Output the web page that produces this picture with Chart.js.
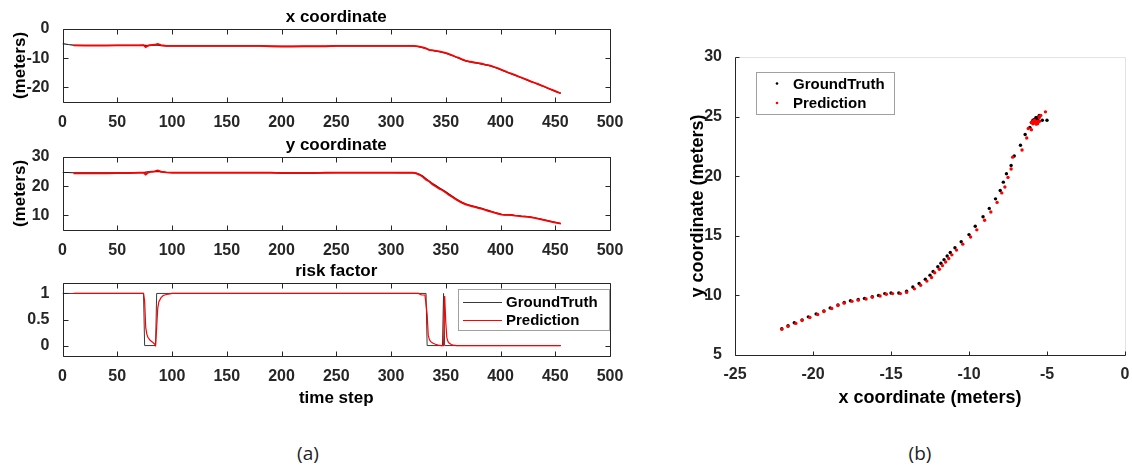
<!DOCTYPE html>
<html>
<head>
<meta charset="utf-8">
<script src="https://cdn.jsdelivr.net/npm/chart.js@4.4.1/dist/chart.umd.min.js"></script>
<style>
  body { margin: 0; background: #fff; width: 1132px; height: 467px; position: relative; overflow: hidden; }
  canvas { position: absolute; }
  .cap { position: absolute; font-family: "Open Sans", "Liberation Sans", sans-serif; font-size: 19px; color: #222; transform: translateX(-50%); }
</style>
</head>
<body>
<canvas id="xChart" width="640" height="130" style="left:0;top:0"></canvas>
<canvas id="yChart" width="640" height="130" style="left:0;top:128px"></canvas>
<canvas id="riskChart" width="640" height="160" style="left:0;top:254px"></canvas>
<canvas id="pathChart" width="472" height="420" style="left:660px;top:0"></canvas>
<div class="cap" style="left:308px;top:440px">(a)</div>
<div class="cap" style="left:920px;top:440px">(b)</div>

<script>
// ---- data ----
// time steps of the position samples (sparse on the flat part, every 3 steps on the turn)
const coordSteps = [
  0, 5, 10, 20, 30, 40, 50, 60, 70, 74, 76, 78, 80, 84, 87, 90, 95,
  100, 110, 120, 130, 140, 150, 160, 170, 180, 190, 200, 210, 220, 230, 240, 250, 260, 270, 280, 290, 300, 310,
  320, 323, 326, 329, 332, 335, 338, 341, 344, 347, 350, 353, 356, 359, 362, 365, 368, 371, 374, 377,
  380, 383, 386, 389, 392, 395, 398, 401, 404, 407, 410, 413, 416, 419, 422, 425, 428, 431, 434, 437,
  440, 443, 446, 449, 452, 455
];
const gtX = [
  -5.0, -5.3, -5.5, -5.6, -5.6, -5.6, -5.6, -5.6, -5.6, -5.6, -5.6, -5.7, -5.6, -5.5, -5.5, -5.7, -5.8,
  -5.8, -5.8, -5.8, -5.8, -5.8, -5.8, -5.8, -5.8, -5.8, -5.9, -5.9, -5.9, -5.9, -5.9, -5.9, -5.8, -5.8, -5.8, -5.8, -5.8, -5.8, -5.8,
  -5.8, -5.9, -6.1, -6.4, -6.7, -7.1, -7.3, -7.6, -7.8, -8.0, -8.3, -8.7, -9.1, -9.6, -10.0, -10.5, -10.9, -11.2, -11.4, -11.6,
  -11.8, -12.0, -12.3, -12.5, -12.8, -13.2, -13.6, -14.0, -14.5, -15.0, -15.4, -15.8, -16.2, -16.7, -17.1, -17.6, -18.0, -18.4, -18.9, -19.3,
  -19.8, -20.3, -20.7, -21.2, -21.6, -22.0
];
const predX = [
  null, null, -5.6, -5.7, -5.7, -5.7, -5.6, -5.6, -5.6, -5.5, -6.2, -5.7, -5.5, -5.4, -5.1, -5.5, -5.8,
  -5.8, -5.8, -5.8, -5.8, -5.8, -5.8, -5.8, -5.8, -5.8, -5.9, -6.0, -6.0, -5.9, -5.9, -5.9, -5.8, -5.8, -5.8, -5.8, -5.8, -5.8, -5.8,
  -5.8, -5.9, -6.0, -6.3, -6.6, -7.2, -7.3, -7.5, -7.7, -7.9, -8.2, -8.6, -9.0, -9.5, -9.9, -10.4, -10.8, -11.1, -11.3, -11.5,
  -11.7, -11.9, -12.2, -12.4, -12.7, -13.1, -13.5, -14.0, -14.4, -14.9, -15.3, -15.7, -16.2, -16.6, -17.1, -17.5, -18.0, -18.4, -18.8, -19.3,
  -19.7, -20.2, -20.7, -21.1, -21.6, -22.0
];
const gtY = [
  24.7, 24.7, 24.6, 24.6, 24.6, 24.6, 24.6, 24.6, 24.7, 24.7, 24.8, 24.9, 24.9, 25.0, 25.1, 24.9, 24.7,
  24.7, 24.7, 24.7, 24.7, 24.7, 24.7, 24.7, 24.7, 24.7, 24.7, 24.6, 24.6, 24.6, 24.6, 24.6, 24.7, 24.7, 24.7, 24.7, 24.7, 24.7, 24.6,
  24.6, 24.5, 24.1, 23.5, 22.6, 21.7, 20.9, 20.2, 19.5, 18.8, 18.1, 17.3, 16.6, 15.8, 15.1, 14.5, 14.0, 13.6, 13.3, 13.0,
  12.7, 12.4, 12.0, 11.7, 11.35, 11.0, 10.7, 10.35, 10.2, 10.2, 10.15, 10.0, 9.9, 9.75, 9.65, 9.55, 9.4, 9.2, 8.95, 8.7,
  8.45, 8.2, 7.95, 7.7, 7.45, 7.2
];
const predY = [
  null, null, 24.4, 24.4, 24.4, 24.4, 24.5, 24.5, 24.6, 24.6, 24.0, 24.6, 24.9, 25.1, 25.4, 25.0, 24.7,
  24.6, 24.6, 24.6, 24.6, 24.6, 24.6, 24.6, 24.6, 24.6, 24.6, 24.5, 24.5, 24.5, 24.5, 24.6, 24.6, 24.6, 24.6, 24.6, 24.6, 24.6, 24.6,
  24.6, 24.4, 23.9, 23.2, 22.2, 21.6, 20.6, 19.9, 19.1, 18.6, 17.8, 17.0, 16.3, 15.5, 14.9, 14.3, 13.8, 13.4, 13.1, 12.8,
  12.5, 12.2, 11.9, 11.5, 11.2, 10.85, 10.55, 10.25, 10.15, 10.15, 10.1, 9.95, 9.85, 9.7, 9.6, 9.5, 9.35, 9.15, 8.9, 8.65,
  8.4, 8.15, 7.9, 7.65, 7.4, 7.15
];

// risk factor
const gtRiskSteps = [0, 74, 75, 85, 86, 332, 333, 347, 348, 349, 455];
const gtRisk      = [1, 1, 0, 0, 1, 1, 0, 0, 1, 0, 0];
const predRiskSteps = [10, 74, 75, 76, 77, 78, 80, 82, 84, 85, 86, 87, 88, 90, 92, 95, 98, 100,
  325, 328, 331, 333, 334, 335, 336, 338, 340, 343, 346, 348, 349, 350, 351, 352, 353, 355, 357, 360, 455];
const predRisk = [1, 1, 0.85, 0.35, 0.22, 0.16, 0.1, 0.07, 0.03, 0, 0.35, 0.72, 0.84, 0.92, 0.96, 0.98, 0.99, 1,
  1, 0.97, 0.97, 0.6, 0.2, 0.12, 0.08, 0.05, 0.03, 0.01, 0, 0, 0.95, 0.45, 0.15, 0.08, 0.05, 0.02, 0.01, 0, 0];

// tick labels
const timeTicks = [0, 50, 100, 150, 200, 250, 300, 350, 400, 450, 500];
const xCoordTicks = [-20, -10, 0];
const yCoordTicks = [10, 20, 30];
const riskTicks = [0, 0.5, 1];
const pathXTicks = [-25, -20, -15, -10, -5, 0];
const pathYTicks = [5, 10, 15, 20, 25, 30];

const GT_COLOR = '#1a1a1a';
const PRED_COLOR = '#ff0000';
const AXIS_COLOR = '#262626';
const FONT = '"Liberation Sans", Arial, Helvetica, sans-serif';

Chart.defaults.font.family = FONT;
Chart.defaults.color = AXIS_COLOR;

const pairs = (xs, ys) => xs.map((v, i) => ({ x: v, y: ys[i] }));
const plain = v => String(v);

/* ---------------------------------------------------------------
   MATLAB-like axes box with inward ticks
--------------------------------------------------------------- */
const matlabFrame = {
  id: 'matlabFrame',
  afterDatasetsDraw(chart, args, o) {
    const { ctx, chartArea: a, scales: { x, y } } = chart;
    const L = Math.round(a.left) + 0.5, R = Math.round(a.right) + 0.5;
    const T = Math.round(a.top) + 0.5, B = Math.round(a.bottom) + 0.5;
    const t = o.tick;
    ctx.save();
    ctx.lineWidth = 1;
    if (!o.box) {
      ctx.strokeStyle = '#e3e3e3';
      ctx.beginPath();
      ctx.moveTo(L, T); ctx.lineTo(R, T); ctx.lineTo(R, B);
      ctx.stroke();
    }
    ctx.strokeStyle = AXIS_COLOR;
    ctx.beginPath();
    ctx.moveTo(L, T); ctx.lineTo(L, B); ctx.lineTo(R, B);
    if (o.box) { ctx.lineTo(R, T); ctx.lineTo(L, T); }
    x.ticks.forEach(tk => {
      const px = Math.round(x.getPixelForValue(tk.value)) + 0.5;
      ctx.moveTo(px, B); ctx.lineTo(px, B - t);
      if (o.box) { ctx.moveTo(px, T); ctx.lineTo(px, T + t); }
    });
    y.ticks.forEach(tk => {
      const py = Math.round(y.getPixelForValue(tk.value)) + 0.5;
      ctx.moveTo(L, py); ctx.lineTo(L + t, py);
      if (o.box) { ctx.moveTo(R, py); ctx.lineTo(R - t, py); }
    });
    ctx.stroke();
    ctx.restore();
  }
};

/* ---------------------------------------------------------------
   Framed legend placed inside the axes
--------------------------------------------------------------- */
const boxLegend = {
  id: 'boxLegend',
  afterDraw(chart, args, o) {
    const ctx = chart.ctx;
    ctx.save();
    ctx.fillStyle = '#fff';
    ctx.fillRect(o.x, o.y, o.w, o.h);
    ctx.strokeStyle = '#a0a0a0';
    ctx.lineWidth = 1;
    ctx.strokeRect(o.x + 0.5, o.y + 0.5, o.w, o.h);
    ctx.font = 'bold 15px ' + FONT;
    ctx.textBaseline = 'middle';
    chart.data.datasets.forEach((ds, i) => {
      const ry = o.y + o.rows[i];
      const c = ds.borderColor || ds.backgroundColor;
      if (o.marker === 'line') {
        ctx.strokeStyle = c;
        ctx.lineWidth = 1;
        ctx.beginPath();
        ctx.moveTo(o.x + o.m0, Math.round(ry) + 0.5);
        ctx.lineTo(o.x + o.m1, Math.round(ry) + 0.5);
        ctx.stroke();
      } else {
        ctx.fillStyle = c;
        ctx.beginPath();
        ctx.arc(o.x + o.m0, ry, 1.3, 0, Math.PI * 2);
        ctx.fill();
      }
      ctx.fillStyle = '#000';
      ctx.fillText(ds.label, o.x + o.tx, ry + 1);
    });
    ctx.restore();
  }
};

function lineSet(label, steps, vals, color, width, order) {
  return {
    label, data: pairs(steps, vals), borderColor: color, backgroundColor: color,
    borderWidth: width, pointRadius: 0, tension: 0, order
  };
}

function makePanel(id, cfg) {
  return new Chart(document.getElementById(id), {
    type: 'line',
    data: { datasets: cfg.datasets },
    plugins: [matlabFrame, boxLegend],
    options: {
      responsive: false,
      animation: false,
      devicePixelRatio: 1,
      layout: { padding: { left: 10, right: 30, top: 0, bottom: cfg.padBottom } },
      plugins: {
        legend: { display: false },
        tooltip: { enabled: false },
        title: {
          display: true, text: cfg.title, fullSize: false, color: '#000',
          font: { size: 17, weight: 'bold' }, padding: { top: 7.5, bottom: 1.1 }
        },
        matlabFrame: { box: true, tick: 5 },
        boxLegend: cfg.legend || false
      },
      scales: {
        x: {
          type: 'linear', min: 0, max: 500,
          afterBuildTicks: s => { s.ticks = timeTicks.map(v => ({ value: v })); },
          afterFit: s => { s.height = cfg.xHeight; },
          grid: { display: false }, border: { display: false },
          ticks: { padding: 3, maxRotation: 0, autoSkip: false, color: AXIS_COLOR, callback: plain,
                   font: { size: 16, weight: 'bold' } },
          title: cfg.xTitle
            ? { display: true, text: cfg.xTitle, color: '#000', font: { size: 17, weight: 'bold' }, padding: 0 }
            : { display: false }
        },
        y: {
          type: 'linear', min: cfg.yMin, max: cfg.yMax,
          afterBuildTicks: s => { s.ticks = cfg.yTicks.map(v => ({ value: v })); },
          afterFit: s => { s.width = 52.5; },
          grid: { display: false }, border: { display: false },
          ticks: { padding: 5, autoSkip: false, color: AXIS_COLOR, callback: plain,
                   font: { size: 16, weight: 'bold' } },
          title: cfg.yTitle
            ? { display: true, text: cfg.yTitle, color: '#000', font: { size: 17, weight: 'bold' }, padding: 0 }
            : { display: false }
        }
      }
    }
  });
}

makePanel('xChart', {
  title: 'x coordinate', yMin: -25, yMax: 0, yTicks: xCoordTicks, yTitle: '(meters)',
  xHeight: 28, padBottom: 0,
  datasets: [
    lineSet('GroundTruth', coordSteps, gtX, GT_COLOR, 1.2, 1),
    lineSet('Prediction', coordSteps, predX, PRED_COLOR, 1.8, 0)
  ]
});

makePanel('yChart', {
  title: 'y coordinate', yMin: 5, yMax: 30, yTicks: yCoordTicks, yTitle: '(meters)',
  xHeight: 28, padBottom: 0,
  datasets: [
    lineSet('GroundTruth', coordSteps, gtY, GT_COLOR, 1.2, 1),
    lineSet('Prediction', coordSteps, predY, PRED_COLOR, 1.8, 0)
  ]
});

makePanel('riskChart', {
  title: 'risk factor', yMin: -0.2, yMax: 1.2, yTicks: riskTicks, xTitle: 'time step',
  xHeight: 53, padBottom: 5,
  legend: { x: 458, y: 35, w: 151, h: 41, rows: [13, 31], marker: 'line', m0: 5, m1: 44, tx: 48 },
  datasets: [
    lineSet('GroundTruth', gtRiskSteps, gtRisk, '#3a3a3a', 1, 1),
    lineSet('Prediction', predRiskSteps, predRisk, PRED_COLOR, 1.2, 0)
  ]
});

// right panel: trajectory in the plane
new Chart(document.getElementById('pathChart'), {
  type: 'scatter',
  data: {
    datasets: [
      { label: 'GroundTruth', data: pairs(gtX, gtY), backgroundColor: '#000', borderColor: '#000',
        pointRadius: 1.7, pointBorderWidth: 0, order: 1 },
      { label: 'Prediction', data: pairs(predX.filter(v => v !== null), predY.filter(v => v !== null)),
        backgroundColor: PRED_COLOR, borderColor: PRED_COLOR, pointRadius: 1.7, pointBorderWidth: 0, order: 0 }
    ]
  },
  plugins: [matlabFrame, boxLegend],
  options: {
    responsive: false,
    animation: false,
    devicePixelRatio: 1,
    layout: { padding: { left: 27, right: 7, top: 57, bottom: 11 } },
    plugins: {
      legend: { display: false },
      tooltip: { enabled: false },
      matlabFrame: { box: false, tick: 4 },
      boxLegend: { x: 96, y: 72, w: 138, h: 42, rows: [11.5, 31], marker: 'dot', m0: 21, tx: 37 }
    },
    scales: {
      x: {
        type: 'linear', min: -25, max: 0,
        afterBuildTicks: s => { s.ticks = pathXTicks.map(v => ({ value: v })); },
        afterFit: s => { s.height = 54; },
        grid: { display: false }, border: { display: false },
        ticks: { padding: 2, maxRotation: 0, autoSkip: false, color: AXIS_COLOR, callback: plain,
                 font: { size: 16, weight: 'bold' } },
        title: { display: true, text: 'x coordinate (meters)', color: '#000', font: { size: 18, weight: 'bold' }, padding: 0 }
      },
      y: {
        type: 'linear', min: 5, max: 30,
        afterBuildTicks: s => { s.ticks = pathYTicks.map(v => ({ value: v })); },
        afterFit: s => { s.width = 48; },
        grid: { display: false }, border: { display: false },
        ticks: { padding: 5, autoSkip: false, color: AXIS_COLOR, callback: plain,
                 font: { size: 16, weight: 'bold' } },
        title: { display: true, text: 'y coordinate (meters)', color: '#000', font: { size: 18, weight: 'bold' }, padding: 0 }
      }
    }
  }
});
</script>
</body>
</html>
